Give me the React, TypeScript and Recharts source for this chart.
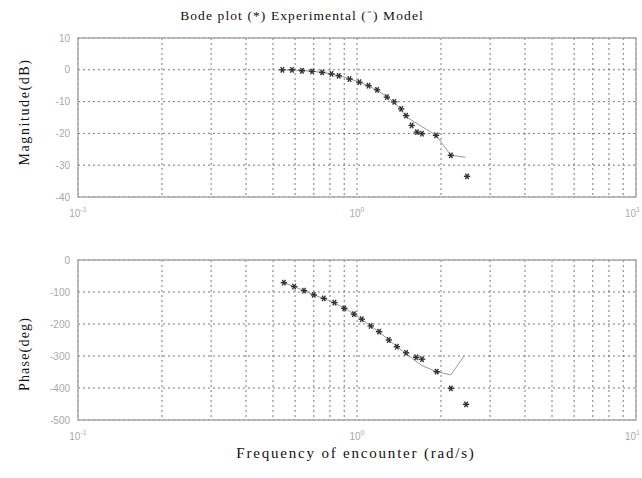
import { ComposedChart, Scatter, XAxis, YAxis, CartesianGrid, ReferenceArea } from 'recharts'

// measured points (*)
const magFreq = [0.54, 0.585, 0.635, 0.69, 0.75, 0.81, 0.86, 0.94, 1.02, 1.1, 1.18, 1.28, 1.36, 1.44, 1.5, 1.57, 1.64, 1.71, 1.92, 2.17, 2.48]
const magVals = [0, 0, -0.3, -0.5, -0.8, -1.3, -1.9, -2.9, -3.9, -5, -6.3, -8.6, -10.1, -12.3, -14.4, -17.5, -19.6, -20.1, -20.6, -26.9, -33.5]
const phaseFreq = [0.547, 0.595, 0.646, 0.7, 0.76, 0.83, 0.9, 0.975, 1.04, 1.12, 1.2, 1.3, 1.39, 1.5, 1.63, 1.71, 1.93, 2.17, 2.46]
const phaseVals = [-71, -83, -96, -109, -120, -133, -151, -169, -185, -206, -224, -250, -271, -290, -304, -310, -349, -401, -451]

// model curve (-)
const modelMagFreq = [0.54, 0.6, 0.7, 0.8, 0.9, 1.0, 1.1, 1.2, 1.3, 1.4, 1.5, 1.92, 2.17, 2.45]
const modelMagVals = [0, -0.1, -0.5, -1.2, -2.3, -3.6, -5, -6.8, -8.9, -11.3, -14.8, -20.6, -26.9, -27.5]
const modelPhaseFreq = [0.54, 0.6, 0.7, 0.8, 0.9, 1.0, 1.1, 1.2, 1.3, 1.4, 1.5, 1.6, 1.71, 1.93, 2.17, 2.42]
const modelPhaseVals = [-70, -84, -109, -128, -150, -175, -201, -225, -250, -273, -292, -312, -330, -349, -359, -300]

const freqTicks = [0.1, 0.2, 0.3, 0.4, 0.5, 0.6, 0.7, 0.8, 0.9, 1, 2, 3, 4, 5, 6, 7, 8, 9, 10]
const decadeExp: Record<string, string> = { '0.1': '-1', '1': '0', '10': '1' }
const magTicks = [-40, -30, -20, -10, 0, 10]
const phaseTicks = [-500, -400, -300, -200, -100, 0]

const zip = (f: number[], v: number[]) => f.map((x, i) => ({ f: x, v: v[i] }))

const serif = '"Liberation Serif", "Times New Roman", serif'
const sans = '"Liberation Sans", Arial, sans-serif'

const XTick = ({ x, y, payload }: any) => {
  const exp = decadeExp[String(payload.value)]
  if (!exp) return null
  // last label would run off the page edge, so pull it in
  const last = payload.value === 10
  return (
    <text x={last ? x + 4 : x} y={y + 12} textAnchor={last ? 'end' : 'middle'} fill="#aaa" fontSize={10} fontFamily={sans}>
      10
      <tspan dy={-5} fontSize={7}>{exp}</tspan>
    </text>
  )
}

const Star = ({ cx, cy }: any) => {
  if (cx == null || cy == null) return <g />
  const r = 3.2
  return (
    <g stroke="#333" strokeWidth={1.4}>
      <line x1={cx - r} y1={cy} x2={cx + r} y2={cy} />
      <line x1={cx - r * 0.5} y1={cy - r * 0.87} x2={cx + r * 0.5} y2={cy + r * 0.87} />
      <line x1={cx - r * 0.5} y1={cy + r * 0.87} x2={cx + r * 0.5} y2={cy - r * 0.87} />
    </g>
  )
}

const Empty = () => <g />

interface PanelProps {
  height: number
  margin: { top: number; right: number; left: number; bottom: number }
  yDomain: [number, number]
  yTicks: number[]
  points: { f: number; v: number }[]
  model: { f: number; v: number }[]
}

function Panel({ height, margin, yDomain, yTicks, points, model }: PanelProps) {
  return (
    <ComposedChart width={642} height={height} margin={margin}>
      <CartesianGrid stroke="#555" strokeDasharray="2 3" strokeWidth={0.8} />
      <XAxis
        dataKey="f"
        type="number"
        scale="log"
        domain={[0.1, 10]}
        ticks={freqTicks}
        interval={0}
        allowDataOverflow
        axisLine={false}
        tickLine={false}
        tick={<XTick />}
        height={30}
      />
      <YAxis
        dataKey="v"
        type="number"
        domain={yDomain}
        ticks={yTicks}
        interval={0}
        axisLine={false}
        tickLine={false}
        tick={{ fill: '#aaa', fontSize: 10, fontFamily: sans }}
        width={30}
      />
      <ReferenceArea x1={0.1} x2={10} y1={yDomain[0]} y2={yDomain[1]} fill="none" stroke="#aaa" strokeWidth={1.5} />
      <Scatter data={model} line={{ stroke: '#999', strokeWidth: 1 }} shape={<Empty />} isAnimationActive={false} />
      <Scatter data={points} shape={<Star />} isAnimationActive={false} />
    </ComposedChart>
  )
}

export default function App() {
  return (
    <div style={{ position: 'absolute', left: 0, top: 0, width: 642, height: 478, background: '#fff', fontFamily: serif }}>
      <div style={{ position: 'absolute', left: 0, top: 0 }}>
        <Panel
          height={230}
          margin={{ top: 38, right: 6, left: 48, bottom: 3 }}
          yDomain={[-40, 10]}
          yTicks={magTicks}
          points={zip(magFreq, magVals)}
          model={zip(modelMagFreq, modelMagVals)}
        />
      </div>
      <div style={{ position: 'absolute', left: 0, top: 230 }}>
        <Panel
          height={220}
          margin={{ top: 30, right: 6, left: 48, bottom: 0 }}
          yDomain={[-500, 0]}
          yTicks={phaseTicks}
          points={zip(phaseFreq, phaseVals)}
          model={zip(modelPhaseFreq, modelPhaseVals)}
        />
      </div>
      <svg width={642} height={478} style={{ position: 'absolute', left: 0, top: 0, pointerEvents: 'none' }}>
        <text x={302} y={20} textAnchor="middle" fontSize={13.5} letterSpacing={1.1} fontFamily={serif} fill="#111">
          Bode plot  (*) Experimental (⁻) Model
        </text>
        <text x={0} y={0} transform="translate(29,112) rotate(-90)" textAnchor="middle" fontSize={14} letterSpacing={1.6} fontFamily={serif} fill="#111">
          Magnitude(dB)
        </text>
        <text x={0} y={0} transform="translate(29,354) rotate(-90)" textAnchor="middle" fontSize={14} letterSpacing={1.2} fontFamily={serif} fill="#111">
          Phase(deg)
        </text>
        <text x={356} y={458} textAnchor="middle" fontSize={15} letterSpacing={1.8} fontFamily={serif} fill="#111">
          Frequency of encounter (rad/s)
        </text>
      </svg>
    </div>
  )
}
